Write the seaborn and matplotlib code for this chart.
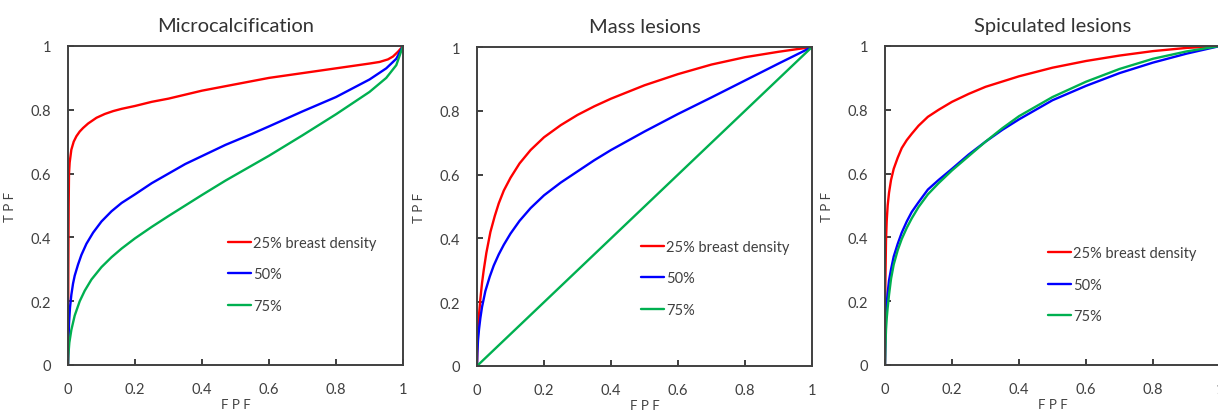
import matplotlib
matplotlib.use("Agg")
import matplotlib.pyplot as plt
import seaborn as sns
import pandas as pd
from matplotlib.ticker import FuncFormatter

# ---------------- data ----------------
titles = ["Microcalcification", "Mass lesions", "Spiculated lesions"]
series_labels = ["25% breast density", "50%", "75%"]
colors = ["#FF0000", "#0000FF", "#00B050"]
ticks = [0, 0.2, 0.4, 0.6, 0.8, 1.0]

# Microcalcification
micro_red_fpf = [0, 0.001, 0.002, 0.003, 0.005, 0.01, 0.017, 0.025, 0.035, 0.045, 0.06, 0.085, 0.11, 0.135, 0.16, 0.2, 0.25, 0.3, 0.4, 0.5, 0.6, 0.7, 0.8, 0.9, 0.93, 0.955, 0.97, 0.985, 1.0]
micro_red_tpf = [0, 0.3, 0.5, 0.6, 0.635, 0.675, 0.7, 0.717, 0.732, 0.743, 0.757, 0.775, 0.787, 0.796, 0.803, 0.812, 0.825, 0.835, 0.86, 0.88, 0.90, 0.915, 0.93, 0.945, 0.95, 0.958, 0.967, 0.982, 1.0]
micro_blue_fpf = [0, 0.001, 0.003, 0.006, 0.01, 0.015, 0.02, 0.03, 0.04, 0.055, 0.075, 0.1, 0.13, 0.16, 0.2, 0.25, 0.3, 0.35, 0.4, 0.47, 0.55, 0.6, 0.7, 0.8, 0.9, 0.95, 0.98, 1.0]
micro_blue_tpf = [0, 0.06, 0.13, 0.18, 0.22, 0.255, 0.28, 0.315, 0.345, 0.38, 0.415, 0.45, 0.482, 0.508, 0.535, 0.57, 0.6, 0.63, 0.655, 0.69, 0.725, 0.748, 0.795, 0.84, 0.895, 0.93, 0.96, 1.0]
micro_green_fpf = [0, 0.001, 0.004, 0.01, 0.02, 0.035, 0.05, 0.07, 0.1, 0.13, 0.16, 0.2, 0.25, 0.3, 0.35, 0.4, 0.47, 0.55, 0.6, 0.7, 0.8, 0.9, 0.95, 0.98, 1.0]
micro_green_tpf = [0, 0.03, 0.07, 0.11, 0.155, 0.2, 0.233, 0.268, 0.307, 0.338, 0.365, 0.397, 0.433, 0.467, 0.5, 0.533, 0.578, 0.626, 0.656, 0.72, 0.786, 0.856, 0.9, 0.94, 1.0]

# Mass lesions
mass_red_fpf = [0, 0.001, 0.003, 0.006, 0.01, 0.015, 0.02, 0.028, 0.04, 0.053, 0.065, 0.08, 0.1, 0.127, 0.16, 0.2, 0.25, 0.3, 0.35, 0.4, 0.5, 0.6, 0.7, 0.8, 0.9, 1.0]
mass_red_tpf = [0, 0.06, 0.11, 0.16, 0.21, 0.26, 0.3, 0.355, 0.42, 0.47, 0.51, 0.55, 0.59, 0.635, 0.677, 0.717, 0.755, 0.787, 0.814, 0.838, 0.88, 0.915, 0.945, 0.968, 0.985, 1.0]
mass_blue_fpf = [0, 0.001, 0.003, 0.006, 0.01, 0.015, 0.025, 0.038, 0.05, 0.065, 0.08, 0.1, 0.127, 0.16, 0.2, 0.25, 0.3, 0.35, 0.4, 0.5, 0.6, 0.7, 0.8, 0.9, 1.0]
mass_blue_tpf = [0, 0.04, 0.08, 0.115, 0.15, 0.185, 0.235, 0.28, 0.315, 0.35, 0.38, 0.415, 0.455, 0.495, 0.535, 0.575, 0.61, 0.645, 0.677, 0.735, 0.79, 0.842, 0.895, 0.948, 1.0]
mass_green_fpf = [0, 1.0]
mass_green_tpf = [0, 1.0]

# Spiculated lesions
spic_red_fpf = [0, 0.001, 0.003, 0.005, 0.008, 0.012, 0.018, 0.026, 0.038, 0.05, 0.065, 0.08, 0.1, 0.128, 0.16, 0.2, 0.25, 0.3, 0.4, 0.5, 0.6, 0.7, 0.8, 0.9, 1.0]
spic_red_tpf = [0, 0.25, 0.39, 0.45, 0.5, 0.54, 0.58, 0.615, 0.65, 0.68, 0.705, 0.725, 0.75, 0.778, 0.80, 0.825, 0.85, 0.872, 0.905, 0.932, 0.953, 0.97, 0.984, 0.994, 1.0]
spic_blue_fpf = [0, 0.001, 0.003, 0.005, 0.008, 0.012, 0.018, 0.026, 0.038, 0.05, 0.065, 0.08, 0.1, 0.128, 0.16, 0.2, 0.25, 0.3, 0.35, 0.4, 0.5, 0.6, 0.7, 0.8, 0.9, 1.0]
spic_blue_tpf = [0, 0.08, 0.15, 0.19, 0.226, 0.265, 0.30, 0.34, 0.38, 0.415, 0.45, 0.48, 0.51, 0.55, 0.58, 0.615, 0.66, 0.70, 0.737, 0.77, 0.83, 0.875, 0.915, 0.948, 0.976, 1.0]
spic_green_fpf = [0, 0.001, 0.003, 0.005, 0.008, 0.012, 0.018, 0.026, 0.038, 0.05, 0.065, 0.08, 0.1, 0.128, 0.16, 0.2, 0.25, 0.3, 0.35, 0.4, 0.5, 0.6, 0.7, 0.8, 0.9, 1.0]
spic_green_tpf = [0, 0.05, 0.11, 0.145, 0.18, 0.22, 0.27, 0.315, 0.36, 0.395, 0.43, 0.46, 0.495, 0.535, 0.57, 0.61, 0.655, 0.70, 0.742, 0.78, 0.84, 0.888, 0.928, 0.96, 0.983, 1.0]

panels = [
    [(micro_red_fpf, micro_red_tpf), (micro_blue_fpf, micro_blue_tpf), (micro_green_fpf, micro_green_tpf)],
    [(mass_red_fpf, mass_red_tpf), (mass_blue_fpf, mass_blue_tpf), (mass_green_fpf, mass_green_tpf)],
    [(spic_red_fpf, spic_red_tpf), (spic_blue_fpf, spic_blue_tpf), (spic_green_fpf, spic_green_tpf)],
]

# ---------------- style ----------------
sns.set_theme(style="white")
plt.rcParams['font.family'] = ['Lato', 'DejaVu Sans']
text_col = "#404040"

W, H = 1218, 414
fig = plt.figure(figsize=(W / 100, H / 100), dpi=100)

# axes boxes in pixels (left, top, right, bottom)
boxes = [(68, 47, 403, 366), (477, 48, 812, 367), (885, 47, 1220, 366)]
legend_anchor = [(0.478, 0.405), (0.49, 0.395), (0.487, 0.372)]

def fmt(v, pos):
    if abs(v) < 1e-9:
        return "0"
    if abs(v - 1) < 1e-9:
        return "1"
    return f"{v:.1f}"

for i, (box, series) in enumerate(zip(boxes, panels)):
    l, t, r, b = box
    ax = fig.add_axes([l / W, (H - b) / H, (r - l) / W, (b - t) / H])
    rows = []
    for lab, (xs, ys) in zip(series_labels, series):
        for x, y in zip(xs, ys):
            rows.append({"FPF": x, "TPF": y, "series": lab})
    df = pd.DataFrame(rows)
    sns.lineplot(data=df, x="FPF", y="TPF", hue="series", hue_order=series_labels,
                 palette=colors, estimator=None, sort=False, linewidth=1.7,
                 ax=ax, legend=False)
    ax.set_xlim(0, 1)
    ax.set_ylim(0, 1)
    ax.set_xticks(ticks)
    ax.set_yticks(ticks)
    ax.xaxis.set_major_formatter(FuncFormatter(fmt))
    ax.yaxis.set_major_formatter(FuncFormatter(fmt))
    ax.tick_params(axis="both", which="major", bottom=True, left=True, top=False, right=False,
                   direction="in", length=4.5, width=1.3, color="#303030",
                   labelsize=10.5, labelcolor=text_col, pad=12)
    for sp in ax.spines.values():
        sp.set_color(text_col)
        sp.set_linewidth(1.4)
        sp.set_visible(True)
    ax.set_title(titles[i], fontsize=14.5, color="#333333", pad=11)
    ax.set_xlabel("F P F", fontsize=9.5, color=text_col, labelpad=2)
    ax.set_ylabel("T P F", fontsize=9.5, color=text_col, labelpad=11)
    ax.grid(False)
    handles = ax.get_lines()[:3]
    leg = ax.legend(handles, series_labels, loc="upper left", bbox_to_anchor=legend_anchor[i],
                    frameon=False, fontsize=10.5, handlelength=1.6, handletextpad=0.12,
                    labelspacing=1.2, borderaxespad=0, borderpad=0)
    for txt in leg.get_texts():
        txt.set_color(text_col)

fig.savefig("out.png", dpi=100)
